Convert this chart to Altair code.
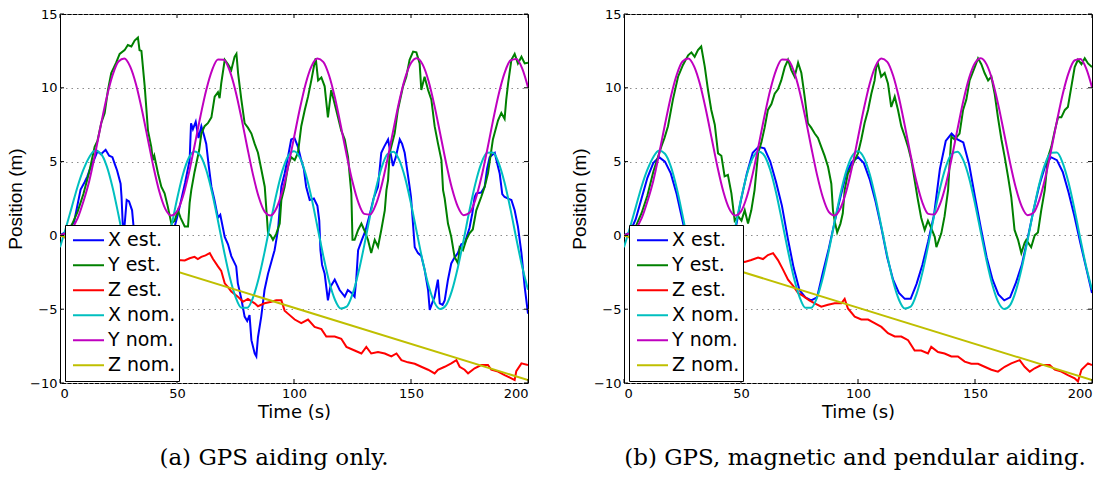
import altair as alt
import pandas as pd

LABELS = ["X est.", "Y est.", "Z est.", "X nom.", "Y nom.", "Z nom."]
COLORS = ["#0000ff", "#008000", "#ff0000", "#00bfbf", "#bf00bf", "#bfbf00"]
X_TICKS = [0, 50, 100, 150, 200]
Y_TICKS = [-10, -5, 0, 5, 10, 15]
CAPTION_A = "(a) GPS aiding only."
CAPTION_B = "(b) GPS, magnetic and pendular aiding."

# nominal trajectory, sampled every 2.5 s
T_NOM = [i * 2.5 for i in range(81)]
X_NOM = [-0.8, 0.5, 1.9, 3.3, 4.45, 5.3, 5.75, 5.53, 4.68, 3.23,
         1.38, -0.61, -2.46, -3.93, -4.81, -4.97, -4.40, -3.18, -1.45, 0.51,
         2.45, 4.11, 5.24, 5.69, 5.41, 4.43, 2.89, 0.99, -0.99, -2.80,
         -4.16, -4.90, -4.91, -4.20, -2.85, -1.07, 0.91, 2.81, 4.37, 5.38,
         5.70, 5.27, 4.16, 2.53, 0.59, -1.37, -3.11, -4.36, -4.96, -4.83,
         -3.98, -2.54, -0.69, 1.31, 3.16, 4.63, 5.51, 5.67, 5.10, 3.88,
         2.15, 0.19, -1.75, -3.40, -4.54, -4.99, -4.72, -3.74, -2.19, -0.30,
         1.70, 3.50, 4.86, 5.60, 5.61, 4.90, 3.56, 1.78, -0.21, -2.11,
         -3.68]
Y_NOM = [0.0, 0.15, 0.45, 1.15, 2.3, 3.69, 5.52, 7.51, 9.38, 10.87,
         11.78, 11.98, 11.43, 10.22, 8.51, 6.55, 4.60, 2.94, 1.80, 1.35,
         1.63, 2.62, 4.17, 6.07, 8.06, 9.85, 11.20, 11.91, 11.90, 11.16,
         9.79, 7.98, 5.99, 4.10, 2.57, 1.60, 1.35, 1.84, 3.00, 4.67,
         6.62, 8.58, 10.28, 11.47, 11.98, 11.76, 10.83, 9.32, 7.43, 5.44,
         3.63, 2.23, 1.46, 1.41, 2.10, 3.42, 5.20, 7.18, 9.10, 10.67,
         11.68, 12.0, 11.57, 10.46, 8.81, 6.87, 4.91, 3.19, 1.95, 1.37,
         1.53, 2.41, 3.89, 5.74, 7.74, 9.58, 11.01, 11.85, 11.95, 11.32,
         10.04]
Z_NOM_T = [0, 200]
Z_NOM = [0.0, -9.8]

# panel (a): GPS aiding only  (time, value)
XA = [(0, 0.0), (3, 0.3), (6, 0.9), (8.8, 3.1), (10.5, 3.6), (11.7, 4.0), (13, 4.6), (14.5, 5.1),
      (16, 5.7), (17.5, 5.5), (19.5, 5.8), (21, 5.4), (22.4, 5.3), (23.5, 4.8), (24.4, 4.4),
      (25.9, 3.5), (26.3, 2.6), (26.8, 0.8), (27.5, 0.5), (28.5, 2.4), (29.5, 2.3), (30.8, 1.7),
      (31.5, 0.5), (33, -1.5), (36, -3.5), (39, -4.5), (42, -4.0), (45, -2.0), (48, 0.0),
      (50, 1.2), (51.8, 2.4), (53.5, 3.6), (55.4, 5.1), (56, 7.6), (56.8, 7.2), (58, 7.7),
      (59.2, 6.6), (60.4, 7.4), (61.5, 6.8), (62.5, 6.2), (63.5, 4.8), (64.7, 3.3), (66, 2.4),
      (67.5, 1.2), (68.5, 1.4), (70.4, -0.1), (71.8, -0.6), (73.2, -1.4), (75.3, -2.1),
      (76, -3.25), (77.5, -4.3), (78.9, -5.5), (80, -5.8), (81, -5.4), (81.8, -7.1),
      (83.2, -8.0), (83.9, -8.2), (84.6, -6.9), (86, -5.5), (87.4, -3.7), (88.9, -2.6),
      (90.3, -1.8), (91.7, -1.0), (93.2, 0.4), (94.6, 3.3), (96, 4.2), (97.4, 5.3),
      (98.8, 6.5), (100.2, 6.6), (101.7, 6.0), (103.1, 5.1), (104.2, 4.5), (105.2, 3.3),
      (106.7, 2.4), (108.5, 2.5), (110, 2.0), (110.8, 1.0), (111.3, -1.0), (112, -2.0),
      (113.1, -2.6), (114.5, -4.4), (115.5, -3.5), (117.4, -3.0), (119.5, -3.7),
      (121.7, -4.15), (123, -3.7), (124.6, -3.9), (125.9, -4.15), (126.6, -3.0),
      (127.4, -1.0), (129, -0.3), (130.5, 0.3), (132.5, 1.5), (134, 2.5), (135.9, 3.3),
      (137.3, 5.6), (138.5, 6.0), (140.2, 6.5), (141, 5.8), (142.3, 4.7), (143.5, 5.3),
      (145.2, 6.5), (146.2, 6.2), (147.3, 5.6), (148.3, 4.5), (149.4, 3.3), (150, 2.6),
      (151.6, -0.8), (153, -1.2), (154.4, -1.4), (155.8, -2.3), (157.3, -3.7), (158, -5.05),
      (159, -4.6), (160.1, -4.15), (161.5, -3.0), (162.3, -4.6), (163.5, -4.7), (164.4, -4.4),
      (165.8, -3.0), (167.2, -1.9), (168.6, -1.5), (170, -1.2), (171.5, -0.6), (173, -0.5),
      (175, 0.5), (176.2, 1.5), (177.2, 2.6), (177.9, 2.85), (180, 2.9), (181.5, 3.3),
      (182.5, 4.5), (183.6, 5.3), (185.8, 5.6), (186.8, 4.9), (187.9, 4.2), (189, 2.8),
      (190, 2.6), (192.9, 2.4), (194.3, 1.7), (195.7, 0.6), (197.2, -1.2), (198.6, -3.5),
      (200, -5.3)]
YA = [(0, 0.0), (2.5, 0.1), (5, 0.7), (7.5, 1.6), (10, 2.8), (12.5, 4.3), (14.8, 6.0), (16, 6.4),
      (17.6, 7.6), (19.1, 8.3), (20.5, 9.85), (21.9, 11.0), (24, 11.7), (25.5, 12.3),
      (27.6, 12.55), (29, 12.9), (30.5, 12.8), (31.9, 13.2), (33.3, 13.4), (34, 12.55),
      (34.8, 12.5), (36.2, 10.1), (37.6, 7.1), (39, 6.0), (39.7, 5.1), (40.3, 5.4), (41.9, 4.2),
      (43.3, 3.3), (44.7, 2.85), (46, 2.0), (47.6, 0.8), (49, 1.0), (50.4, 1.7), (51.5, 1.2),
      (53.3, 0.6), (54.7, 0.6), (55.4, 2.2), (56.1, 3.07), (57.5, 4.3), (59.5, 5.8), (60.4, 6.9),
      (61.8, 7.4), (63.2, 7.6), (64.7, 8.0), (66.1, 9.4), (67.5, 9.7), (68.2, 9.3), (68.9, 10.3),
      (70.4, 11.9), (71.8, 11.6), (73.2, 11.2), (74.6, 12.1), (75.4, 12.3), (76.1, 11.0),
      (77.5, 9.2), (78.9, 7.6), (80.3, 7.3), (81.8, 6.9), (83.2, 6.2), (84.6, 5.6), (86, 4.5),
      (87.5, 3.3), (88.3, 1.5), (88.9, 0.14), (90, 0.0), (91, -0.3), (92.4, 0.1), (93.9, 0.8),
      (94.6, 2.4), (96, 3.3), (97.4, 4.65), (98.8, 5.3), (100.3, 5.1), (101.7, 5.6),
      (103.1, 7.4), (104.6, 8.5), (106, 9.4), (107.4, 10.5), (108.8, 11.7), (109.3, 12.0),
      (110.3, 10.5), (111.7, 10.7), (113.1, 10.1), (114.5, 8.0), (115.9, 9.85), (117.4, 8.9),
      (118.8, 8.0), (120.2, 7.1), (121.7, 6.5), (123.1, 5.3), (124.5, 2.85), (125, -0.3),
      (125.9, -0.3), (127.4, 0.37), (128.8, 0.8), (130.2, 0.3), (131.6, -0.3), (133, -1.2),
      (134.5, -0.3), (135.9, -0.77), (137.3, 0.37), (138.8, 1.7), (139.5, 3.07), (140.2, 3.75),
      (140.9, 5.6), (143, 6.9), (144.4, 8.5), (146.6, 10.1), (148, 10.75), (149.4, 11.9),
      (150.9, 12.45), (152.3, 12.4), (153.7, 11.65), (154.4, 9.85), (155.8, 10.75),
      (157.3, 9.85), (158.7, 9.2), (160.1, 7.4), (161.5, 6.25), (163, 5.1), (163.7, 3.07),
      (164.4, 2.5), (165.8, 0.8), (167.2, -0.1), (168.6, -1.44), (170.1, -1.9), (170.8, -0.8),
      (172.2, -1.0), (173.6, -0.3), (175, 0.14), (176.4, 0.4), (177.9, 1.7), (180, 2.6),
      (181.5, 3.3), (182.9, 4.2), (185, 6.5), (187.2, 7.8), (188.6, 8.3), (190, 7.9),
      (190.7, 9.2), (191.5, 10.3), (192.9, 11.9), (194.3, 12.3), (195.7, 11.65), (197.2, 12.1),
      (198.6, 11.65), (200, 11.7)]
ZA = [(0, 0.0), (3, -0.2), (6, -0.4), (10, -0.5), (15, -0.9), (20, -1.0), (25, -1.3), (30, -1.5),
      (35, -1.6), (40, -1.8), (45, -1.9), (49.6, -1.9), (50.4, -1.67), (53.3, -1.7),
      (55.4, -1.55), (57.5, -1.45), (58.9, -1.6), (60.4, -1.45), (62.2, -1.35), (64, -1.2),
      (65.4, -1.6), (67.5, -2.1), (68.9, -2.4), (70.4, -3.25), (71.8, -3.5), (73.2, -3.8),
      (76, -4.15), (78.2, -4.5), (80.3, -4.3), (83.2, -4.6), (84.6, -4.8), (87.4, -4.6),
      (90.3, -4.5), (92.4, -4.4), (94.6, -4.4), (96, -5.1), (97.4, -5.3), (100.3, -5.7),
      (103.1, -5.95), (106, -5.7), (108.8, -6.2), (111.7, -6.35), (113.8, -6.85),
      (117.4, -6.85), (120.2, -7.0), (122.4, -7.55), (125.9, -7.8), (128.8, -8.0),
      (130.9, -7.55), (133, -8.0), (135.9, -7.9), (138.8, -8.0), (141.6, -8.2), (143.8, -8.0),
      (145.9, -8.45), (148.7, -8.6), (151.6, -8.7), (154.4, -8.9), (157.3, -9.1),
      (160.1, -9.35), (161.5, -9.1), (164.4, -8.9), (167.2, -8.67), (169.4, -8.45),
      (170.8, -8.9), (172.9, -9.1), (174.4, -9.35), (177.2, -9.0), (180, -8.78),
      (182.9, -8.78), (184.3, -9.1), (187.2, -9.23), (190, -9.46), (192.9, -9.68),
      (194.3, -9.8), (195, -9.2), (197.2, -8.67), (200, -8.78)]

# panel (b): GPS, magnetic and pendular aiding  (time, value)
XB = [(0, 0.0), (2.5, 0.2), (5, 1.1), (7.5, 2.5), (10, 3.9), (12.5, 4.9), (15, 5.3), (17.5, 5.0),
      (20, 4.2), (22.5, 2.8), (25, 1.0), (27.5, -0.8), (30, -2.5), (32.5, -3.8), (35, -4.5),
      (37.5, -4.6), (40, -4.2), (42.5, -3.2), (45, -1.7), (47.5, 0.3), (50, 2.4), (52.5, 4.2),
      (55, 5.6), (57.5, 6.0), (60, 5.9), (62.5, 5.0), (65, 3.6), (67.5, 2.0), (70, -0.2),
      (72.5, -2.2), (75, -3.7), (77.5, -4.2), (80, -4.4), (82.5, -4.2), (85, -2.5),
      (87.5, -0.9), (90, 0.9), (92.5, 2.6), (95, 4.2), (97.5, 5.0), (100, 5.3), (102.5, 4.9),
      (105, 3.8), (107.5, 2.3), (110, 0.5), (112.5, -1.5), (115, -3.0), (117.5, -3.9),
      (120, -4.3), (122.5, -4.3), (125, -3.3), (127.5, -2.0), (130, -0.4), (132.5, 1.4),
      (135, 4.5), (137.5, 6.4), (140, 6.9), (142.5, 6.5), (145, 6.3), (147.5, 4.8),
      (150, 2.6), (152.5, 0.5), (155, -1.5), (157.5, -3.0), (160, -4.0), (162.5, -4.4),
      (165, -4.2), (167.5, -3.2), (170, -2.0), (172.5, -0.2), (175, 1.7), (177.5, 3.4),
      (180, 4.7), (182.5, 5.3), (185, 5.1), (187.5, 4.3), (190, 2.9), (192.5, 1.3),
      (195, -0.5), (197.5, -2.2), (200, -3.9)]
YB = [(0, 0.0), (2.5, 0.1), (5, 0.6), (7.5, 1.5), (10, 2.7), (12.5, 4.3), (15.9, 6.0),
      (17.3, 6.6), (18.8, 7.4), (20.9, 9.2), (23.1, 10.75), (25.2, 11.55), (27.4, 12.2),
      (28.8, 12.4), (30.2, 12.1), (31.6, 12.55), (33, 12.8), (34.5, 11.45), (35.9, 9.85),
      (37.3, 8.5), (38.8, 7.5), (40.2, 5.56), (41.6, 5.4), (43, 4.0), (44.4, 4.1),
      (45.9, 2.85), (47.3, 1.0), (48.7, 1.3), (50.2, 1.0), (51.6, 1.7), (53, 0.8), (54.4, 1.7),
      (55.8, 3.07), (57.3, 5.56), (58.7, 6.3), (60.1, 7.3), (61.5, 8.5), (63, 8.9), (64.4, 9.6),
      (65.8, 9.9), (67.2, 10.5), (68.7, 11.4), (70.1, 11.9), (71.5, 11.2), (72.9, 10.75),
      (74.4, 11.7), (75.8, 11.0), (77.2, 9.4), (78.6, 7.6), (80, 7.3), (81.5, 6.9), (82.9, 6.6),
      (84.3, 6.0), (85.7, 5.4), (87.2, 4.65), (88.6, 3.5), (89.3, 1.7), (90, 1.0), (91.1, 0.2),
      (92.5, 0.8), (93.5, 1.5), (94.3, 3.07), (95.7, 4.2), (97.1, 4.6), (98.6, 5.1),
      (100, 5.56), (101.4, 6.5), (102.8, 7.6), (104.3, 8.5), (105.7, 9.6), (107.1, 10.5),
      (107.8, 11.4), (108.5, 11.65), (109.9, 10.75), (111.4, 11.0), (112.8, 10.3),
      (114.2, 8.7), (115.7, 9.4), (117.1, 8.5), (118.5, 7.4), (120, 6.7), (121.4, 6.0),
      (122.8, 5.1), (124.2, 3.75), (125.5, 2.5), (127, 1.2), (128.5, 0.37), (129.9, 1.0),
      (131.3, 0.5), (132.8, -0.1), (133.5, -0.8), (135.6, 0.14), (137, 1.3), (138.5, 3.07),
      (139.2, 5.0), (139.9, 6.7), (141.3, 6.5), (143.4, 6.9), (144.9, 8.5), (146.3, 9.2),
      (147.7, 10.5), (149.9, 11.4), (151.3, 12.0), (152.7, 11.6), (154.1, 11.0),
      (155.6, 10.5), (157, 10.75), (158.4, 9.6), (159.8, 8.0), (161.3, 6.5), (162.7, 5.3),
      (164.1, 4.0), (165.5, 2.6), (166.9, 0.37), (168.4, -0.3), (169.8, -1.2), (171.2, -0.5),
      (171.9, -0.3), (174, -0.8), (175.5, 0.0), (176.9, 0.2), (178.3, 1.7), (179.8, 3.07),
      (181.2, 5.3), (182.6, 6.0), (184.1, 7.1), (185.5, 8.0), (186.9, 8.0), (188.4, 8.5),
      (189.7, 8.7), (191.2, 10.1), (192.6, 11.4), (194, 11.9), (195.5, 11.6), (196.9, 12.0),
      (198.3, 11.65), (200, 11.4)]
ZB = [(0, 0.0), (5, -0.3), (10, -0.5), (15, -0.8), (20, -1.0), (25, -1.2), (30, -1.4),
      (35, -1.5), (40, -1.6), (45, -1.8), (49.4, -1.7), (51.6, -1.8), (54.4, -1.67),
      (57.3, -1.5), (59.4, -1.6), (61.5, -1.33), (63.7, -1.2), (65.8, -1.67), (67.9, -2.3),
      (70.1, -3.0), (72.2, -3.4), (74.4, -3.9), (76.5, -4.1), (79.2, -4.4), (81.5, -4.6),
      (84.3, -4.83), (87.2, -4.7), (90, -4.6), (92.9, -4.6), (94.3, -4.3), (95.7, -4.95),
      (98.6, -5.5), (101.4, -5.7), (104.3, -5.7), (107.1, -5.95), (110, -6.2), (112.8, -6.63),
      (115.7, -6.85), (118.5, -6.85), (121.4, -7.1), (124.2, -7.8), (127, -7.8), (129.9, -8.0),
      (131.3, -7.55), (134.2, -7.9), (137, -8.0), (139.9, -8.2), (142.7, -8.2), (145.6, -8.55),
      (148.4, -8.7), (151.3, -8.7), (154.1, -8.9), (157, -9.1), (159.8, -9.23), (162.7, -8.9),
      (165.5, -8.67), (169.1, -8.45), (171.2, -8.9), (173.4, -9.23), (175.5, -9.0),
      (178.3, -8.78), (181.9, -8.78), (184.1, -9.1), (186.9, -9.23), (189.7, -9.46),
      (192.6, -9.68), (194, -9.9), (195.5, -9.1), (198.3, -8.67), (200, -8.78)]

W, H = 468, 369


def pairs_df(pairs, label):
    return pd.DataFrame({"t": [p[0] for p in pairs], "v": [p[1] for p in pairs], "series": label})


nom_df = pd.concat([
    pd.DataFrame({"t": T_NOM, "v": X_NOM, "series": LABELS[3]}),
    pd.DataFrame({"t": T_NOM, "v": Y_NOM, "series": LABELS[4]}),
    pd.DataFrame({"t": Z_NOM_T, "v": Z_NOM, "series": LABELS[5]}),
], ignore_index=True)

x_scale = alt.Scale(domain=[0, 200], nice=False, zero=False)
y_scale = alt.Scale(domain=[-10, 15], nice=False, zero=False)

x_axis = alt.Axis(values=X_TICKS, grid=False, domain=False, ticks=False, format="d",
                  labelFont="DejaVu Sans", labelFontSize=13, labelColor="black", labelPadding=4,
                  title="Time (s)", titleFont="DejaVu Sans", titleFontSize=18,
                  titleFontWeight="normal", titleColor="black", titlePadding=3)
y_axis = alt.Axis(values=Y_TICKS, grid=True, gridDash=[1.5, 4], gridColor="#8c8c8c", gridWidth=1,
                  domain=False, ticks=False, format="d",
                  labelFont="DejaVu Sans", labelFontSize=13, labelColor="black", labelPadding=3,
                  title="Position (m)", titleFont="Liberation Sans", titleFontSize=19,
                  titleFontWeight="normal", titleColor="black", titlePadding=4)


def color_enc():
    return alt.Color("series:N", scale=alt.Scale(domain=LABELS, range=COLORS),
                     legend=alt.Legend(orient="none", legendX=5, legendY=211, title=None,
                                       strokeColor="black", fillColor="white", padding=3,
                                       symbolType="stroke", symbolSize=961, symbolStrokeWidth=2,
                                       symbolOffset=4, labelOffset=3, labelFont="DejaVu Sans",
                                       labelFontSize=19, labelColor="black", labelLimit=300,
                                       clipHeight=24.5, rowPadding=0, cornerRadius=0))


def panel(est_pairs, caption, dx):
    est_df = pd.concat([pairs_df(p, LABELS[i]) for i, p in enumerate(est_pairs)], ignore_index=True)
    est = alt.Chart(est_df).mark_line(strokeWidth=2, clip=True).encode(
        x=alt.X("t:Q", scale=x_scale, axis=x_axis),
        y=alt.Y("v:Q", scale=y_scale, axis=y_axis),
        color=color_enc(),
    )
    nom = alt.Chart(nom_df).mark_line(strokeWidth=2, interpolate="monotone", clip=True).encode(
        x=alt.X("t:Q", scale=x_scale, axis=x_axis),
        y=alt.Y("v:Q", scale=y_scale, axis=y_axis),
        color=color_enc(),
    )
    xt = pd.DataFrame({"t": X_TICKS})
    yt = pd.DataFrame({"v": Y_TICKS})
    top = alt.Chart(xt).mark_rule(color="black", strokeWidth=1).encode(
        x=alt.X("t:Q", scale=x_scale, axis=x_axis), y=alt.value(0), y2=alt.value(4))
    bottom = alt.Chart(xt).mark_rule(color="black", strokeWidth=1).encode(
        x=alt.X("t:Q", scale=x_scale, axis=x_axis), y=alt.value(H - 4), y2=alt.value(H))
    left = alt.Chart(yt).mark_rule(color="black", strokeWidth=1).encode(
        y=alt.Y("v:Q", scale=y_scale, axis=y_axis), x=alt.value(0), x2=alt.value(4))
    right = alt.Chart(yt).mark_rule(color="black", strokeWidth=1).encode(
        y=alt.Y("v:Q", scale=y_scale, axis=y_axis), x=alt.value(W - 4), x2=alt.value(W))
    return alt.layer(est, nom, top, bottom, left, right).properties(
        width=W, height=H,
        title=alt.TitleParams(caption, orient="bottom", anchor="middle", frame="group",
                              font="DejaVu Serif", fontSize=23, fontWeight="normal",
                              color="black", offset=26, dx=dx),
    )


pa = panel([XA, YA, ZA], CAPTION_A, -20)
pb = panel([XB, YB, ZB], CAPTION_B, -3)

chart = alt.hconcat(pa, pb, spacing=96, bounds="flush").resolve_scale(
    color="independent").configure_view(stroke="black", strokeWidth=1).properties(
    padding={"left": 6, "top": 7, "right": 5, "bottom": 5}, background="white")

chart.save("out.html", embed_options={"renderer": "svg", "actions": False})
